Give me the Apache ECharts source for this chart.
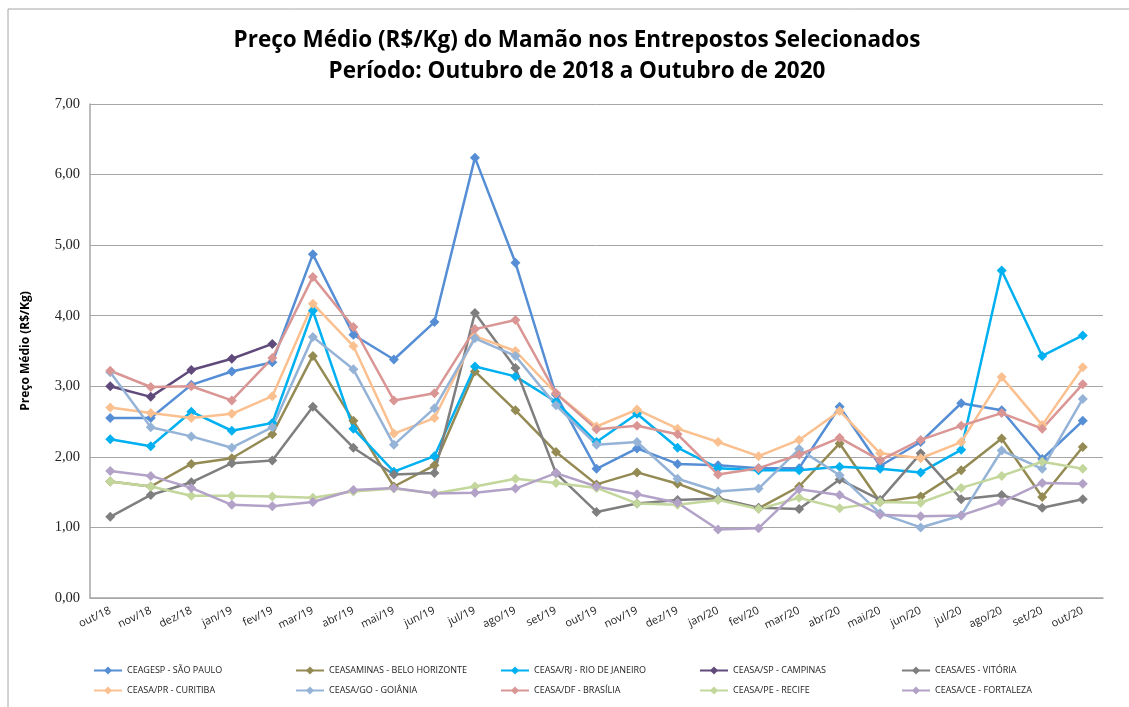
<!DOCTYPE html>
<html>
	<head>
		<meta charset="UTF-8">
		<title></title>
		<style type="text/css">
			* {
				margin: 0;
				padding: 0;
			}
			#chart {
				width: 1129px;
				height: 707px;
				background: #fff;
			}
		</style>
	</head>
	<body>
		<div id="chart"></div>
		<script src="https://cdn.jsdelivr.net/npm/echarts@6/dist/echarts.min.js"></script>
		<script type="text/javascript">
			// meses
			var meses = ['out/18', 'nov/18', 'dez/18', 'jan/19', 'fev/19', 'mar/19', 'abr/19', 'mai/19', 'jun/19', 'jul/19', 'ago/19', 'set/19', 'out/19',
				'nov/19', 'dez/19', 'jan/20', 'fev/20', 'mar/20', 'abr/20', 'mai/20', 'jun/20', 'jul/20', 'ago/20', 'set/20', 'out/20'];

			// precos por entreposto (R$/Kg)
			var saoPaulo = [2.55, 2.55, 3.02, 3.21, 3.34, 4.87, 3.73, 3.38, 3.91, 6.24, 4.75, 2.88, 1.83, 2.12, 1.90, 1.88, 1.84, 1.84, 2.71, 1.87, 2.21, 2.76, 2.66, 1.97, 2.51];
			var beloHorizonte = [1.65, 1.58, 1.90, 1.98, 2.32, 3.43, 2.51, 1.58, 1.88, 3.21, 2.66, 2.07, 1.61, 1.78, 1.62, 1.41, 1.27, 1.58, 2.19, 1.36, 1.44, 1.81, 2.26, 1.43, 2.14];
			var rioDeJaneiro = [2.25, 2.15, 2.64, 2.37, 2.48, 4.07, 2.40, 1.79, 2.01, 3.28, 3.14, 2.78, 2.21, 2.61, 2.13, 1.84, 1.81, 1.81, 1.86, 1.83, 1.78, 2.10, 4.64, 3.43, 3.72];
			var campinas = [3.00, 2.85, 3.23, 3.39, 3.60, null, null, null, null, null, null, null, null, null, null, null, null, null, null, null, null, null, null, null, null];
			var vitoria = [1.15, 1.46, 1.64, 1.91, 1.95, 2.71, 2.13, 1.75, 1.77, 4.04, 3.26, 1.77, 1.22, 1.34, 1.39, 1.41, 1.28, 1.26, 1.68, 1.39, 2.05, 1.40, 1.46, 1.28, 1.40];
			var curitiba = [2.70, 2.62, 2.55, 2.61, 2.86, 4.17, 3.57, 2.33, 2.55, 3.71, 3.50, 2.90, 2.43, 2.67, 2.40, 2.21, 2.01, 2.24, 2.65, 2.05, 1.98, 2.21, 3.13, 2.45, 3.27];
			var goiania = [3.20, 2.42, 2.29, 2.13, 2.42, 3.70, 3.24, 2.17, 2.69, 3.68, 3.43, 2.73, 2.17, 2.21, 1.69, 1.51, 1.55, 2.11, 1.74, 1.20, 1.00, 1.17, 2.09, 1.83, 2.82];
			var brasilia = [3.22, 2.99, 3.00, 2.80, 3.40, 4.55, 3.84, 2.80, 2.90, 3.81, 3.94, 2.90, 2.39, 2.44, 2.32, 1.75, 1.84, 2.03, 2.27, 1.95, 2.24, 2.44, 2.62, 2.40, 3.03];
			var recife = [1.65, 1.58, 1.45, 1.45, 1.44, 1.42, 1.51, 1.55, 1.48, 1.58, 1.69, 1.63, 1.56, 1.34, 1.32, 1.39, 1.26, 1.42, 1.27, 1.36, 1.35, 1.56, 1.73, 1.93, 1.83];
			var fortaleza = [1.80, 1.73, 1.56, 1.32, 1.30, 1.36, 1.53, 1.56, 1.48, 1.49, 1.55, 1.77, 1.58, 1.47, 1.35, 0.97, 0.99, 1.54, 1.46, 1.18, 1.16, 1.17, 1.36, 1.63, 1.62];

			var nomes = ['CEAGESP - SÃO PAULO', 'CEASAMINAS - BELO HORIZONTE', 'CEASA/RJ - RIO DE JANEIRO', 'CEASA/SP - CAMPINAS', 'CEASA/ES - VITÓRIA',
				'CEASA/PR - CURITIBA', 'CEASA/GO - GOIÂNIA', 'CEASA/DF - BRASÍLIA', 'CEASA/PE - RECIFE', 'CEASA/CE - FORTALEZA'];
			var valores = [saoPaulo, beloHorizonte, rioDeJaneiro, campinas, vitoria, curitiba, goiania, brasilia, recife, fortaleza];
			var cores = ['#558ED5', '#948A54', '#00B0F0', '#604A7B', '#7F7F7F', '#FAC090', '#95B3D7', '#D99694', '#C3D69B', '#B3A2C7'];

			var fonte = '"Open Sans", "Liberation Sans", sans-serif';

			var series = [];
			for(var i = 0; i < nomes.length; i++) {
				series.push({
					name: nomes[i],
					type: 'line',
					data: valores[i],
					symbol: 'diamond',
					symbolSize: 10,
					connectNulls: false,
					lineStyle: {
						width: 2.5,
						color: cores[i]
					},
					itemStyle: {
						color: cores[i]
					}
				});
			}

			// legenda em 5 colunas, 2 linhas
			var colunasX = [88, 290, 495, 694, 896];
			var legendas = [];
			for(var c = 0; c < 5; c++) {
				legendas.push({
					orient: 'vertical',
					left: colunasX[c],
					top: 661,
					itemGap: 11,
					itemWidth: 28,
					itemHeight: 10,
					textStyle: {
						fontFamily: fonte,
						fontSize: 9,
						color: '#222'
					},
					data: [nomes[c], nomes[c + 5]]
				});
			}

			var grafico = echarts.init(document.getElementById('chart'));
			grafico.setOption({
				animation: false,
				color: cores,
				title: {
					text: 'Preço Médio (R$/Kg) do Mamão nos Entrepostos Selecionados\nPeríodo: Outubro de 2018 a Outubro de 2020',
					left: 572,
					textAlign: 'center',
					top: 20,
					textStyle: {
						fontFamily: fonte,
						fontSize: 22.5,
						fontWeight: 'bold',
						lineHeight: 31,
						color: '#000'
					}
				},
				legend: legendas,
				grid: {
					left: 90,
					right: 26,
					top: 104,
					bottom: 109
				},
				xAxis: {
					type: 'category',
					data: meses,
					boundaryGap: true,
					axisLine: {
						lineStyle: {
							color: '#a6a6a6',
							width: 1.5
						}
					},
					axisTick: {
						show: false
					},
					axisLabel: {
						rotate: 25,
						margin: 12,
						interval: 0,
						fontFamily: fonte,
						fontSize: 11,
						color: '#222'
					}
				},
				yAxis: {
					type: 'value',
					min: 0,
					max: 7,
					interval: 1,
					name: 'Preço Médio (R$/Kg)',
					nameLocation: 'middle',
					nameGap: 58,
					nameTextStyle: {
						fontFamily: fonte,
						fontSize: 12,
						fontWeight: 'bold',
						color: '#000'
					},
					axisLine: {
						show: true,
						lineStyle: {
							color: '#a6a6a6',
							width: 1.5
						}
					},
					axisTick: {
						show: false
					},
					splitLine: {
						lineStyle: {
							color: '#a6a6a6'
						}
					},
					axisLabel: {
						margin: 10,
						fontFamily: '"Liberation Serif", "DejaVu Serif", serif',
						fontSize: 14.5,
						color: '#222',
						formatter: function(v) {
							return v.toFixed(2).replace('.', ',');
						}
					}
				},
				graphic: [{
					type: 'rect',
					shape: {
						x: 8,
						y: 9,
						width: 1140,
						height: 720
					},
					style: {
						fill: 'none',
						stroke: '#a6a6a6',
						lineWidth: 1
					},
					silent: true
				}],
				series: series
			});
		</script>
	</body>
</html>
